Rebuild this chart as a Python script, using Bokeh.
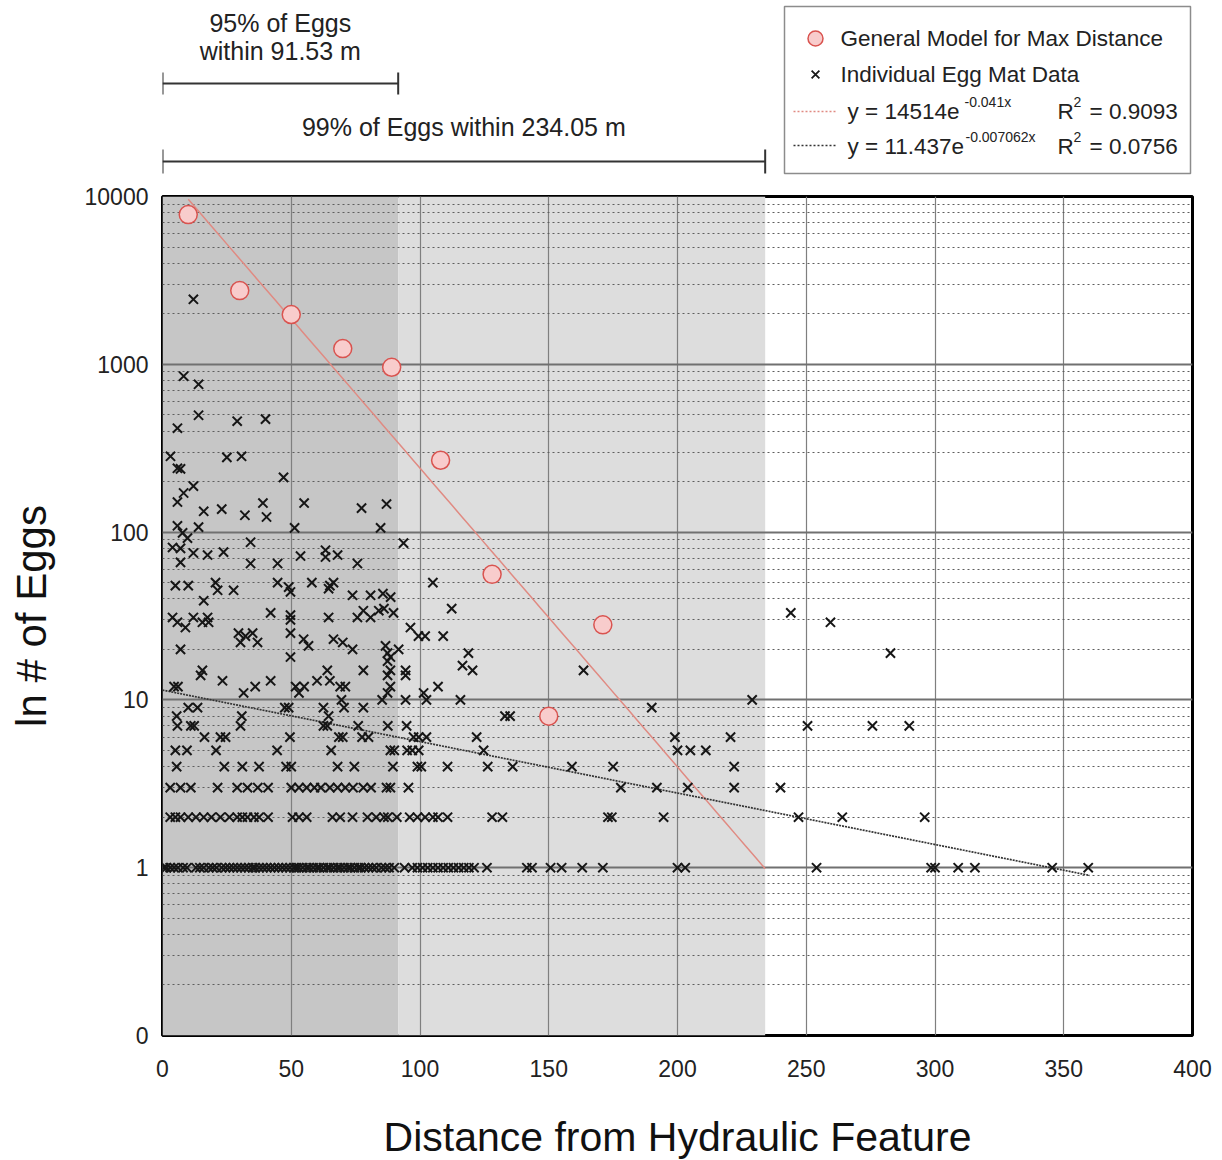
import numpy as np
from bokeh.plotting import figure
from bokeh.layouts import column
from bokeh.models import Range1d, FixedTicker, CustomJSTickFormatter
from bokeh.core.properties import value
from bokeh.embed import file_html
from bokeh.resources import INLINE

FONT = "Liberation Sans"

# ---------------- data ----------------
model_dist = [10, 30, 50, 70, 89, 108, 128, 150, 171]
model_eggs = [7800, 2750, 1980, 1240, 960, 268, 56, 8, 28]

dist_count1 = [0.5, 1.5, 3, 4.5, 6, 8, 9.5, 13, 14.5, 16, 18, 19.5, 21, 23, 24.5, 26, 27.5, 29,
               30.5, 32, 33.5, 35, 36, 37.5, 39, 40.5, 42, 43.5, 45, 46.5, 48, 49.5, 51, 52, 53,
               54.5, 56, 57, 58.5, 60, 61, 62.5, 64, 65, 66.5, 68, 69, 70.5, 72, 73, 74.5, 76, 77,
               78.5, 80, 81.5, 83, 85, 86.5, 88, 90, 94, 97, 99, 101, 103, 105, 107, 109, 111, 113,
               115, 117, 119, 121, 126, 141.5, 143.5, 150.7, 155, 163, 171, 200, 203, 254, 298.5,
               300, 309, 315.5, 345.5, 359.5]
dist_count2 = [3, 5, 7, 10, 13, 16, 19, 22.5, 26, 29, 31, 33, 35.5, 37.5, 41, 50.5, 53, 56, 66,
               69, 73.8, 79.6, 83, 86, 87.5, 91, 96, 99, 102, 105, 107, 110.7, 128, 132, 173,
               174.5, 194.6, 247, 264, 296]
dist_count3 = [3, 7, 11, 21.4, 29, 33, 37, 41, 50, 53, 56, 59, 61.5, 65, 68, 71, 74, 78, 81, 87,
               88.5, 95.5, 178, 192, 204, 222, 240]
dist_count4 = [5.5, 24, 31, 37.5, 48, 50, 68, 74.5, 89.5, 99, 100.5, 110.7, 126.3, 136, 159, 175, 222]
dist_count5 = [5, 9.5, 20.8, 44.5, 65.5, 88.5, 90, 95, 97, 99.5, 124.7, 200, 205, 211]
dist_count6 = [16.3, 22.5, 24.5, 49.5, 68.5, 70, 77.5, 80, 97.5, 99.5, 102.5, 122, 199, 220.6]
dist_count7 = [5.8, 11, 12.3, 30.3, 62.5, 64, 76, 87.5, 94.8, 250.5, 275.7, 290]

upper_dist = [5.5, 30.8, 64.5, 133, 135,
              10, 13.6, 47.5, 49, 62.5, 70.5, 78, 190,
              69.5, 85.3, 94.4, 102.5, 115.7, 229,
              31.5, 53, 87.4, 101.4,
              4.5, 6, 36, 51.7, 55, 69, 71, 88.5, 107,
              23.3, 42, 60, 65,
              14.8, 87.4, 94.4,
              15.5, 64, 78, 88.5, 94.4, 120.4, 163.5,
              116.5, 87.4, 49.7, 88.5, 87.4, 118.8, 282.7,
              7, 73.8, 91.7, 56.7, 86.6, 30.3, 36.9, 70, 54.8, 66.4,
              32.2, 99.4, 102, 109, 29.5, 35, 49.7, 8.9, 96.3,
              5.8, 15.5, 17.9, 259.4, 49.7, 3.9, 12, 17.5, 64.5, 75.7, 80.8,
              49.7, 42, 89.7, 244, 78, 84, 86, 112.3, 16,
              88.6, 73.8, 80.8, 85.6, 49.7, 21.4, 27.6, 64.5, 49, 5, 10, 65,
              20.6, 44.7, 58, 66.4, 105,
              34.2, 44.7, 75.7, 7, 63.3, 53.6, 17.5, 68, 12, 23.7, 63.3, 7, 3.9,
              93.6, 34.2, 9.7, 7.8, 51.3, 84.7, 14, 5.8,
              40.4, 32, 16, 23, 77.3, 87, 39, 55, 5.8, 8.2, 12, 47,
              7, 5.8, 25, 3.1, 30.7, 5.8, 29, 40, 14, 14, 8.2, 12]
upper_eggs = [8, 8, 8, 8, 8,
              9, 9, 9, 9, 9, 9, 9, 9,
              10, 10, 10, 10, 10, 10,
              11, 11, 11, 11,
              12, 12, 12, 12, 12, 12, 12, 12, 12,
              13, 13, 13, 13,
              14, 14, 14,
              15, 15, 15, 15, 15, 15, 15,
              16, 17, 18, 18, 19, 19, 19,
              20, 20, 20, 21, 21, 22, 22, 22, 23, 23,
              24, 24, 24, 24, 25, 25, 25, 27, 27,
              29, 29, 29, 29, 30, 31, 31, 31, 31, 31, 31,
              32, 33, 33, 33, 34, 34, 35, 35, 39,
              41, 42, 42, 43, 44, 45, 45, 46, 47, 48, 48, 48,
              50, 50, 50, 50, 50,
              65, 65, 65, 66, 71, 72, 73, 73, 75, 76, 78, 80, 81,
              86, 87, 92, 99, 106, 106, 107, 109,
              123, 126, 133, 137, 139, 147, 149, 149, 151, 171, 188, 212,
              238, 240, 279, 283, 283, 416, 458, 471, 497, 760, 849, 2440]

fit_max_a, fit_max_b = 14514, -0.041
fit_all_a, fit_all_b = 11.437, -0.007062
pct95_dist = 91.53
pct99_dist = 234.05

x_ticks = [0, 50, 100, 150, 200, 250, 300, 350, 400]
y_ticks = [0.1, 1, 10, 100, 1000, 10000]
y_tick_labels = ["0", "1", "10", "100", "1000", "10000"]
y_minor = [m * d for d in [0.1, 1, 10, 100, 1000] for m in range(2, 10)]

legend_labels = ["General Model for Max Distance", "Individual Egg Mat Data"]

# ---------------- build marks ----------------
count_rows = [dist_count1, dist_count2, dist_count3, dist_count4, dist_count5, dist_count6, dist_count7]
mat_x, mat_y = [], []
for c, row in enumerate(count_rows, start=1):
    mat_x += row
    mat_y += [c] * len(row)
mat_x += upper_dist
mat_y += upper_eggs

# ---------------- layout constants ----------------
BL, BR = 162, 20
FW, FH = 1030, 839
TOP_H = 180
FRAME_TOP = 196

p = figure(frame_width=FW, frame_height=FH, x_range=Range1d(0, 400), y_range=Range1d(0.1, 10000),
           y_axis_type="log", output_backend="svg", toolbar_location=None,
           min_border_left=BL, min_border_right=BR, min_border_top=FRAME_TOP - TOP_H,
           min_border_bottom=120)
p.background_fill_color = "white"
p.outline_line_color = "black"
p.outline_line_width = 3

# shading
r1 = p.quad(left=[0], right=[pct95_dist], bottom=[0.1], top=[10000], fill_color="#c6c6c6", line_color=None)
r2 = p.quad(left=[pct95_dist], right=[pct99_dist], bottom=[0.1], top=[10000], fill_color="#dddddd", line_color=None)
r1.level = "image"
r2.level = "image"

yt = FixedTicker(ticks=y_ticks, minor_ticks=y_minor)
xt = FixedTicker(ticks=x_ticks)
p.yaxis.ticker = yt
p.xaxis.ticker = xt
p.ygrid.ticker = yt
p.xgrid.ticker = xt
p.xgrid.grid_line_color = "#7f7f7f"
p.xgrid.grid_line_width = 1.2
p.ygrid.grid_line_color = "#707070"
p.ygrid.grid_line_width = 1.8
p.ygrid.minor_grid_line_color = "#5e5e5e"
p.ygrid.minor_grid_line_width = 1
p.ygrid.minor_grid_line_dash = "2 3"

p.yaxis.formatter = CustomJSTickFormatter(args=dict(tv=y_ticks, tl=y_tick_labels), code="""
for (let i = 0; i < tv.length; i++) {
  if (Math.abs(Math.log10(tick) - Math.log10(tv[i])) < 1e-6) return tl[i];
}
return '';
""")

for ax in (p.xaxis, p.yaxis):
    ax.axis_line_color = None
    ax.major_tick_line_color = None
    ax.minor_tick_line_color = None
    ax.major_tick_out = 0
    ax.major_tick_in = 0
    ax.minor_tick_out = 0
    ax.major_label_text_font = FONT
    ax.major_label_text_font_size = "23px"
    ax.major_label_text_color = "#222222"
    ax.axis_label_text_font = FONT
    ax.axis_label_text_font_style = "normal"
    ax.axis_label_text_color = "#111111"

p.xaxis.axis_label = "Distance from Hydraulic Feature"
p.yaxis.axis_label = "ln # of Eggs"
p.xaxis.axis_label_text_font_size = "41px"
p.yaxis.axis_label_text_font_size = "42px"
p.xaxis.major_label_standoff = 24
p.xaxis.axis_label_standoff = 34
p.yaxis.major_label_standoff = 14
p.yaxis.axis_label_standoff = 27

# trend lines
xm = np.linspace(model_dist[0], pct99_dist, 60)
p.line(xm, fit_max_a * np.exp(fit_max_b * xm), line_color="#e08a82", line_width=1.5)
xa = np.linspace(0, 360, 60)
p.line(xa, fit_all_a * np.exp(fit_all_b * xa), line_color="#333333", line_width=1.7, line_dash="2 1")

p.scatter(mat_x, mat_y, marker="x", size=13, line_color="#161616", line_width=2)
p.scatter(model_dist, model_eggs, marker="circle", size=18, line_color="#d9534f",
          fill_color="#f8cccc", line_width=1.5)

# ---------------- top panel (annotations + legend), y in pixel rows ----------------
t = figure(frame_width=FW, frame_height=TOP_H, x_range=p.x_range, y_range=Range1d(TOP_H, 0),
           output_backend="svg", toolbar_location=None, x_axis_location=None, y_axis_location=None,
           min_border_left=BL, min_border_right=BR, min_border_top=0, min_border_bottom=0)
t.outline_line_color = None
t.grid.visible = False

def px2x(px):
    return (px - BL) * 400.0 / FW

# brackets
t.segment(x0=[0, 0, pct95_dist], y0=[83, 72, 72], x1=[pct95_dist, 0, pct95_dist], y1=[83, 94, 94],
          line_color="#333333", line_width=2)
t.segment(x0=[0, 0, pct99_dist], y0=[161, 149, 149], x1=[pct99_dist, 0, pct99_dist], y1=[161, 173, 173],
          line_color="#333333", line_width=2)
t.text(x=[pct95_dist / 2, pct95_dist / 2, pct99_dist / 2], y=[22, 50, 126],
       text=["95% of Eggs", "within %.2f m" % pct95_dist, "99%% of Eggs within %.2f m" % pct99_dist],
       text_font=value(FONT), text_font_size="25px", text_align="center", text_baseline="middle",
       text_color="#222222")

# legend box
t.quad(left=[px2x(784)], right=[px2x(1190)], top=[6], bottom=[173], fill_color="white",
       line_color="#8c8c8c", line_width=1.5)
t.scatter([px2x(815)], [38], marker="circle", size=15, line_color="#d9534f", fill_color="#f8cccc",
          line_width=1.5)
t.scatter([px2x(815)], [74], marker="x", size=11, line_color="#1a1a1a", line_width=1.8)
t.segment(x0=[px2x(793)], y0=[111], x1=[px2x(835)], y1=[111], line_color="#e08a82", line_width=1.5,
          line_dash="2 2")
t.segment(x0=[px2x(793)], y0=[145], x1=[px2x(835)], y1=[145], line_color="#333333", line_width=1.5,
          line_dash="2 2")
t.text(x=[px2x(840), px2x(840)], y=[38, 74], text=legend_labels, text_font=value(FONT),
       text_font_size="22.5px", text_align="left", text_baseline="middle", text_color="#222222")
t.text(x=[px2x(847), px2x(847), px2x(1057), px2x(1057)], y=[111, 146, 111, 146],
       text=["y = %de" % fit_max_a, "y = %.3fe" % fit_all_a, "R", "R"],
       text_font=value(FONT), text_font_size="22.5px", text_align="left", text_baseline="middle",
       text_color="#222222")
t.text(x=[px2x(964), px2x(965), px2x(1073), px2x(1073)], y=[101, 136, 101, 136],
       text=["%.3fx" % fit_max_b, "%.6fx" % fit_all_b, "2", "2"],
       text_font=value(FONT), text_font_size="14px", text_align="left", text_baseline="middle",
       text_color="#222222")
t.text(x=[px2x(1089), px2x(1089)], y=[111, 146], text=["= 0.9093", "= 0.0756"],
       text_font=value(FONT), text_font_size="22.5px", text_align="left", text_baseline="middle",
       text_color="#222222")

layout = column(t, p)
open("out.html", "w").write(file_html(layout, INLINE))
